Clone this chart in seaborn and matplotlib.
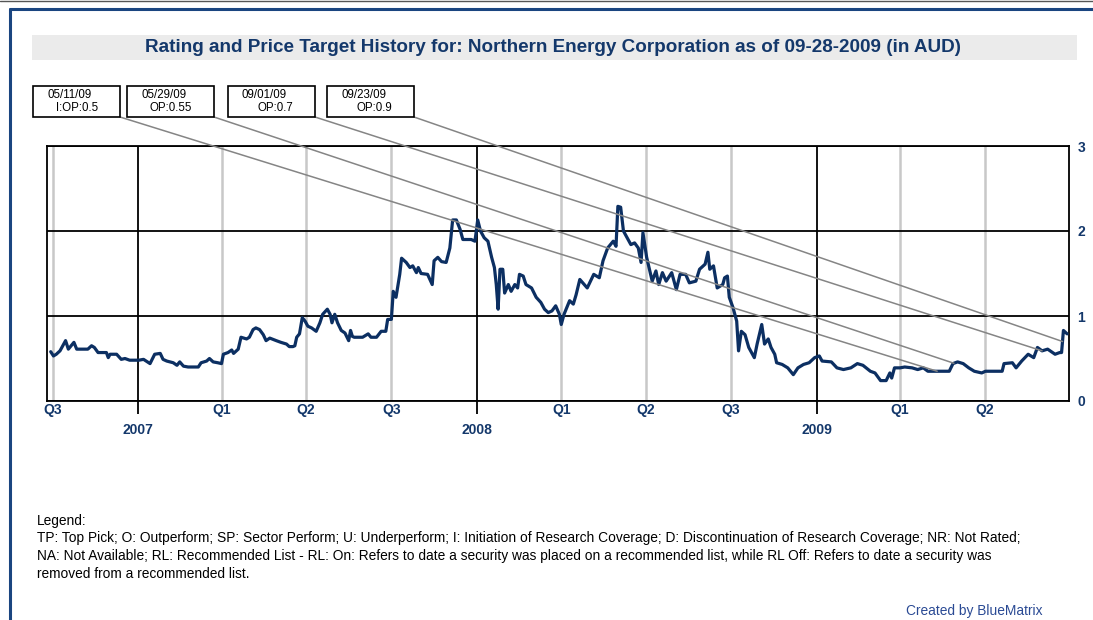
import numpy as np
import pandas as pd
import matplotlib
matplotlib.use("Agg")
import matplotlib.pyplot as plt
import matplotlib.dates as mdates
from matplotlib.patches import Rectangle
from matplotlib.lines import Line2D
import seaborn as sns

sns.set_theme(style="white")
plt.rcParams["font.family"] = ["Liberation Sans", "DejaVu Sans"]

NAVY = "#14386b"
W, H = 1093, 620

# price history (AUD)
price_dates = [
    "2006-09-29", "2006-10-02", "2006-10-05", "2006-10-09", "2006-10-12", "2006-10-15",
    "2006-10-18", "2006-10-21", "2006-10-24", "2006-10-27", "2006-10-30", "2006-11-08",
    "2006-11-12", "2006-11-15", "2006-11-19", "2006-11-28", "2006-11-30", "2006-12-02",
    "2006-12-09", "2006-12-14", "2006-12-18", "2006-12-23", "2007-01-02", "2007-01-07",
    "2007-01-14", "2007-01-19", "2007-01-25", "2007-01-28", "2007-02-01", "2007-02-08",
    "2007-02-12", "2007-02-15", "2007-02-19", "2007-02-24", "2007-03-07", "2007-03-10",
    "2007-03-16", "2007-03-19", "2007-03-23", "2007-03-28", "2007-04-01", "2007-04-03",
    "2007-04-08", "2007-04-12", "2007-04-14", "2007-04-19", "2007-04-22", "2007-04-28",
    "2007-05-01", "2007-05-05", "2007-05-08", "2007-05-12", "2007-05-16", "2007-05-19",
    "2007-05-23", "2007-05-30", "2007-06-04", "2007-06-10", "2007-06-13", "2007-06-17",
    "2007-06-19", "2007-06-21", "2007-06-24", "2007-06-27", "2007-06-30", "2007-07-03",
    "2007-07-07", "2007-07-12", "2007-07-16", "2007-07-19", "2007-07-24", "2007-07-27",
    "2007-07-29", "2007-08-01", "2007-08-04", "2007-08-08", "2007-08-12", "2007-08-16",
    "2007-08-18", "2007-08-20", "2007-08-22", "2007-08-31", "2007-09-06", "2007-09-09",
    "2007-09-15", "2007-09-20", "2007-09-25", "2007-09-27", "2007-10-01", "2007-10-03",
    "2007-10-06", "2007-10-10", "2007-10-12", "2007-10-17", "2007-10-21", "2007-10-24",
    "2007-10-28", "2007-10-30", "2007-11-02", "2007-11-09", "2007-11-14", "2007-11-16",
    "2007-11-20", "2007-11-24", "2007-11-29", "2007-12-03", "2007-12-06", "2007-12-10",
    "2007-12-14", "2007-12-17", "2007-12-26", "2007-12-30", "2007-12-31", "2008-01-02",
    "2008-01-05", "2008-01-09", "2008-01-13", "2008-01-17", "2008-01-20", "2008-01-22",
    "2008-01-24", "2008-01-26", "2008-01-29", "2008-01-31", "2008-02-04", "2008-02-07",
    "2008-02-11", "2008-02-14", "2008-02-16", "2008-02-20", "2008-02-23", "2008-02-29",
    "2008-03-05", "2008-03-10", "2008-03-14", "2008-03-18", "2008-03-22", "2008-03-26",
    "2008-03-30", "2008-04-01", "2008-04-04", "2008-04-10", "2008-04-14", "2008-04-17",
    "2008-04-21", "2008-04-29", "2008-05-06", "2008-05-12", "2008-05-16", "2008-05-21",
    "2008-05-27", "2008-05-30", "2008-06-01", "2008-06-04", "2008-06-07", "2008-06-11",
    "2008-06-15", "2008-06-19", "2008-06-23", "2008-06-26", "2008-06-28", "2008-07-02",
    "2008-07-08", "2008-07-12", "2008-07-15", "2008-07-19", "2008-07-23", "2008-07-29",
    "2008-08-03", "2008-08-07", "2008-08-13", "2008-08-17", "2008-08-24", "2008-08-28",
    "2008-09-03", "2008-09-06", "2008-09-08", "2008-09-12", "2008-09-16", "2008-09-22",
    "2008-09-24", "2008-09-27", "2008-09-29", "2008-10-03", "2008-10-07", "2008-10-09",
    "2008-10-12", "2008-10-16", "2008-10-20", "2008-10-26", "2008-10-29", "2008-11-03",
    "2008-11-06", "2008-11-10", "2008-11-13", "2008-11-17", "2008-11-19", "2008-11-25",
    "2008-12-01", "2008-12-07", "2008-12-12", "2008-12-18", "2008-12-24", "2008-12-30",
    "2009-01-04", "2009-01-07", "2009-01-17", "2009-01-23", "2009-01-30", "2009-02-07",
    "2009-02-14", "2009-02-20", "2009-02-28", "2009-03-05", "2009-03-11", "2009-03-17",
    "2009-03-21", "2009-03-23", "2009-03-26", "2009-04-01", "2009-04-06", "2009-04-14",
    "2009-04-20", "2009-04-26", "2009-05-01", "2009-05-09", "2009-05-24", "2009-05-28",
    "2009-06-02", "2009-06-08", "2009-06-14", "2009-06-20", "2009-06-28", "2009-07-02",
    "2009-07-20", "2009-07-22", "2009-07-31", "2009-08-04", "2009-08-10", "2009-08-17",
    "2009-08-23", "2009-08-27", "2009-09-01", "2009-09-07", "2009-09-15", "2009-09-20",
    "2009-09-22", "2009-09-24", "2009-09-28",
]
price_values = [
    0.58, 0.53, 0.55, 0.59, 0.65, 0.71,
    0.61, 0.65, 0.69, 0.61, 0.61, 0.61,
    0.65, 0.63, 0.57, 0.57, 0.51, 0.55,
    0.55, 0.49, 0.50, 0.48, 0.48, 0.49,
    0.44, 0.55, 0.56, 0.49, 0.47, 0.45,
    0.42, 0.46, 0.41, 0.40, 0.40, 0.45,
    0.47, 0.50, 0.46, 0.45, 0.44, 0.55,
    0.57, 0.60, 0.56, 0.61, 0.75, 0.73,
    0.75, 0.84, 0.86, 0.84, 0.78, 0.71,
    0.74, 0.71, 0.69, 0.67, 0.64, 0.64,
    0.65, 0.75, 0.79, 0.98, 0.94, 0.88,
    0.86, 0.82, 0.92, 1.02, 1.08, 1.02,
    0.92, 1.02, 0.92, 0.83, 0.80, 0.71,
    0.83, 0.76, 0.75, 0.75, 0.79, 0.75,
    0.75, 0.82, 0.82, 0.96, 0.96, 1.29,
    1.22, 1.49, 1.68, 1.63, 1.57, 1.59,
    1.51, 1.57, 1.50, 1.49, 1.37, 1.65,
    1.69, 1.64, 1.63, 1.80, 2.13, 2.13,
    2.02, 1.90, 1.90, 1.88, 1.96, 2.13,
    2.00, 1.92, 1.88, 1.69, 1.57, 1.37,
    1.08, 1.55, 1.55, 1.27, 1.37, 1.29,
    1.37, 1.33, 1.49, 1.47, 1.37, 1.33,
    1.22, 1.16, 1.08, 1.04, 1.06, 1.12,
    1.02, 0.90, 1.02, 1.18, 1.14, 1.25,
    1.43, 1.33, 1.49, 1.45, 1.65, 1.80,
    1.88, 1.82, 2.29, 2.28, 2.00, 1.92,
    1.84, 1.86, 1.80, 1.63, 1.98, 1.69,
    1.41, 1.53, 1.37, 1.51, 1.41, 1.51,
    1.31, 1.49, 1.49, 1.39, 1.41, 1.55,
    1.61, 1.75, 1.55, 1.59, 1.33, 1.37,
    1.45, 1.47, 1.22, 1.10, 0.94, 0.59,
    0.82, 0.78, 0.63, 0.51, 0.67, 0.90,
    0.67, 0.73, 0.63, 0.55, 0.45, 0.43,
    0.39, 0.31, 0.39, 0.43, 0.45, 0.51,
    0.53, 0.47, 0.46, 0.39, 0.37, 0.39,
    0.44, 0.42, 0.35, 0.33, 0.24, 0.24,
    0.33, 0.27, 0.39, 0.39, 0.40, 0.39,
    0.37, 0.39, 0.35, 0.35, 0.35, 0.44,
    0.46, 0.44, 0.39, 0.35, 0.33, 0.35,
    0.35, 0.44, 0.45, 0.39, 0.47, 0.55,
    0.51, 0.63, 0.59, 0.61, 0.55, 0.57,
    0.57, 0.83, 0.79,
]

rating_dates = ["2009-05-11", "2009-05-29", "2009-09-01", "2009-09-23"]
rating_labels = ["05/11/09", "05/29/09", "09/01/09", "09/23/09"]
rating_codes = ["I:OP:0.5", "OP:0.55", "OP:0.7", "OP:0.9"]

quarter_dates = ["2006-10-01", "2007-04-01", "2007-07-01", "2007-10-01", "2008-04-01",
                 "2008-07-01", "2008-10-01", "2009-04-01", "2009-07-01"]
quarter_labels = ["Q3", "Q1", "Q2", "Q3", "Q1", "Q2", "Q3", "Q1", "Q2"]
year_dates = ["2007-01-01", "2008-01-01", "2009-01-01"]
year_labels = ["2007", "2008", "2009"]
y_ticks = [0, 1, 2, 3]

title = "Rating and Price Target History for: Northern Energy Corporation as of 09-28-2009 (in AUD)"
legend_lines = [
    "Legend:",
    "TP: Top Pick; O: Outperform; SP: Sector Perform; U: Underperform; I: Initiation of Research Coverage; "
    "D: Discontinuation of Research Coverage; NR: Not Rated;",
    "NA: Not Available; RL: Recommended List - RL: On: Refers to date a security was placed on a recommended list, "
    "while RL Off: Refers to date a security was",
    "removed from a recommended list.",
]


def fx(px):
    return px / W


def fy(py):
    return 1 - py / H


prices = pd.DataFrame({"date": pd.to_datetime(price_dates), "price": price_values})

fig = plt.figure(figsize=(W / 100, H / 100), dpi=100)
fig.patch.set_facecolor("white")
ax = fig.add_axes([fx(47), fy(401), fx(1069 - 47), (401 - 146) / H])

sns.lineplot(data=prices, x="date", y="price", ax=ax, color="#0c2f62",
             linewidth=2.3, estimator=None, zorder=3)

ax.set_xlim(pd.Timestamp("2006-09-25"), pd.Timestamp("2009-09-30"))
ax.set_ylim(0, 3)
ax.set_xlabel("")
ax.set_ylabel("")

# x ticks: years (major) and quarter ends (minor)
ax.set_xticks(mdates.date2num(pd.to_datetime(year_dates)))
ax.set_xticklabels(year_labels)
ax.set_xticks(mdates.date2num(pd.to_datetime(quarter_dates)), minor=True)
ax.set_xticklabels(quarter_labels, minor=True)
ax.tick_params(axis="x", which="major", bottom=True, length=9, width=1.3, color="black",
               pad=6.5, labelsize=10, labelcolor=NAVY)
ax.tick_params(axis="x", which="minor", bottom=True, length=0, pad=1.5,
               labelsize=10, labelcolor=NAVY)
for lab in ax.get_xticklabels(which="both"):
    lab.set_fontweight("bold")

ax.set_yticks(y_ticks)
ax.set_yticklabels([str(v) for v in y_ticks])
ax.tick_params(axis="y", left=False, right=False, labelleft=False, labelright=True,
               length=0, pad=6, labelsize=10, labelcolor=NAVY)
for lab in ax.get_yticklabels():
    lab.set_fontweight("bold")

ax.set_axisbelow(True)
ax.grid(which="minor", axis="x", color="#c8c8c8", linewidth=1.8)
ax.grid(which="major", axis="x", color="black", linewidth=1.3)
ax.grid(which="major", axis="y", color="black", linewidth=1.3)
for sp in ax.spines.values():
    sp.set_visible(True)
    sp.set_color("black")
    sp.set_linewidth(1.3)

# rating boxes with leader lines to the price on the rating date
box_left = [33, 127, 228, 327]
price_num = mdates.date2num(prices["date"])
for left, d, lab, code in zip(box_left, rating_dates, rating_labels, rating_codes):
    dn = mdates.date2num(pd.Timestamp(d))
    p = np.interp(dn, price_num, prices["price"])
    fig.add_artist(Rectangle((fx(left), fy(117)), fx(87), 31 / H, transform=fig.transFigure,
                             facecolor="white", edgecolor="black", linewidth=1.2))
    fig.text(fx(left + 14), fy(95), lab, fontsize=8.3, va="center", ha="left", color="black")
    fig.text(fx(left + 65), fy(108), code, fontsize=8.3, va="center", ha="right", color="black")
    ax.annotate("", xy=(dn, p), xycoords="data", xytext=(fx(left + 87), fy(117)),
                textcoords="figure fraction", annotation_clip=False,
                arrowprops=dict(arrowstyle="-", color="#858585", lw=1.1, shrinkA=0, shrinkB=0))

# title band
fig.add_artist(Rectangle((fx(32), fy(60)), fx(1077 - 32), 25 / H, transform=fig.transFigure,
                         facecolor="#ebebeb", edgecolor="none", zorder=0))
fig.text(fx(553), fy(48), title, ha="center", va="center", fontsize=13.6,
         fontweight="bold", color=NAVY)

# page border
fig.add_artist(Line2D([0, 1], [fy(0.5), fy(0.5)], transform=fig.transFigure, color="#555555", lw=1))
fig.add_artist(Line2D([fx(9.5), 1], [fy(8.5), fy(8.5)], transform=fig.transFigure, color="#1a4580", lw=2.2))
fig.add_artist(Line2D([fx(9.5), fx(9.5)], [fy(8.5), 0], transform=fig.transFigure, color="#1a4580", lw=2.2))

# legend text
for yy, line in zip([521, 538, 556, 574], legend_lines):
    fig.text(fx(37), fy(yy), line, fontsize=9.95, va="center", ha="left", color="black")

fig.text(fx(1043), fy(611), "Created by BlueMatrix", fontsize=9.9, va="center", ha="right",
         color="#2a4a94")

fig.savefig("out.png", dpi=100)
